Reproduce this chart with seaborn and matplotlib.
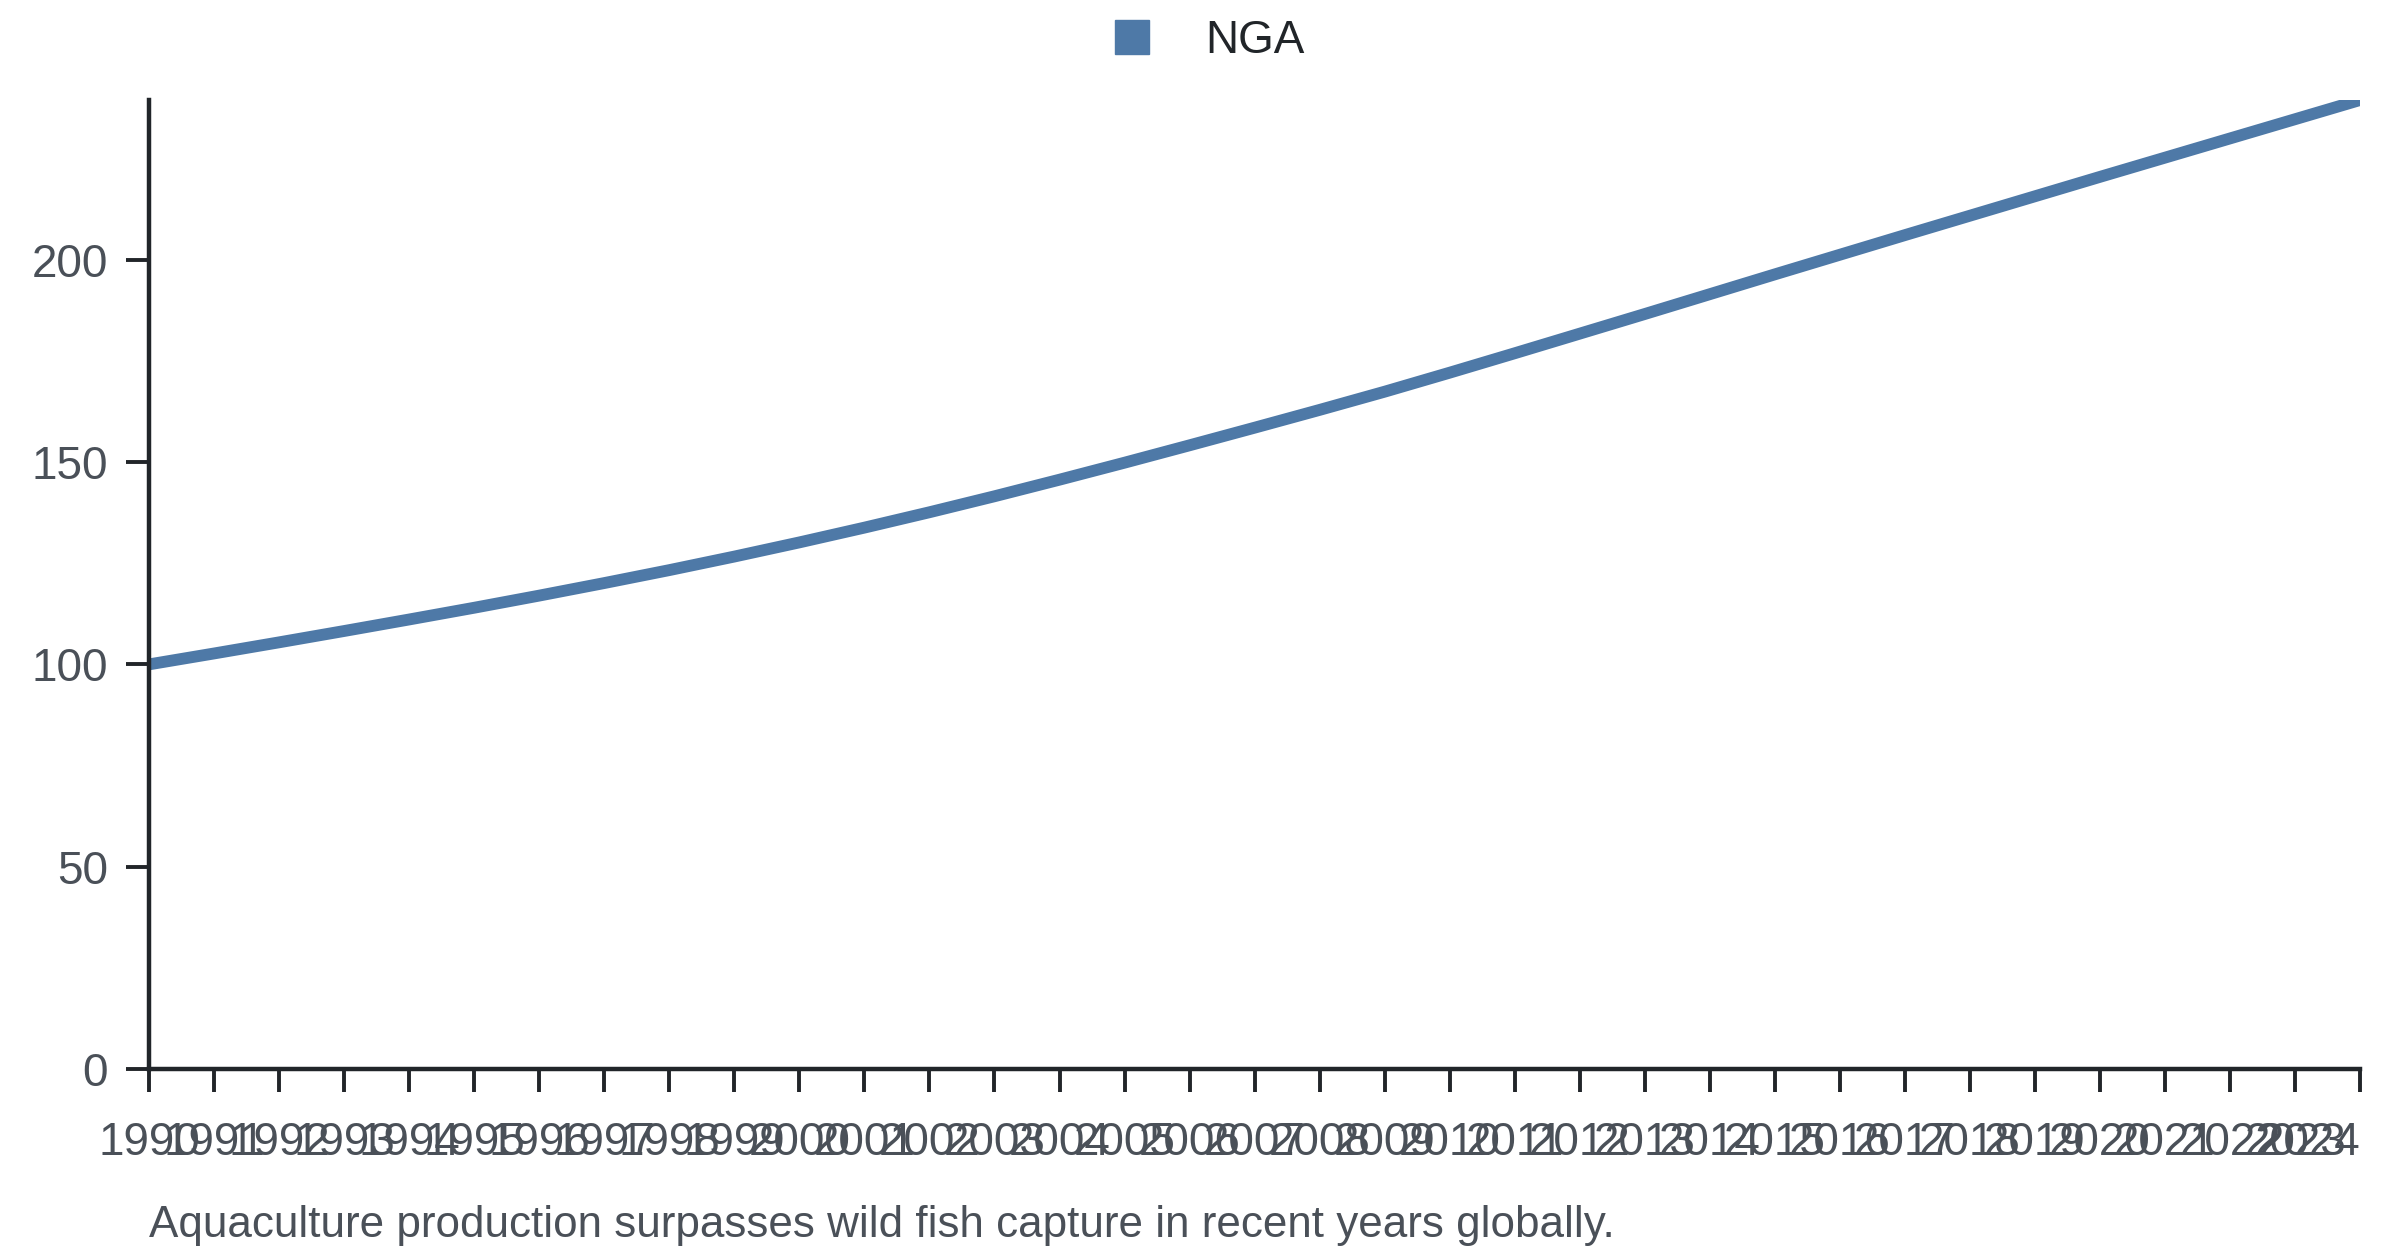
import matplotlib
matplotlib.use("Agg")
import matplotlib.pyplot as plt
from matplotlib.lines import Line2D
import seaborn as sns
import pandas as pd

years = list(range(1990, 2025))
nga_values = [100.0, 102.7, 105.45, 108.25, 111.1, 114.0, 117.0, 120.1, 123.3, 126.65,
              130.15, 133.8, 137.6, 141.55, 145.65, 149.85, 154.15, 158.5, 162.9, 167.4,
              172.1, 176.9, 181.75, 186.6, 191.5, 196.4, 201.25, 206.1, 210.9, 215.7,
              220.5, 225.25, 230.0, 234.75, 239.5]
series_name = "NGA"
y_ticks = [0, 50, 100, 150, 200]
caption = "Aquaculture production surpasses wild fish capture in recent years globally."

df = pd.DataFrame({"year": years, "value": nga_values, "country": series_name})

sns.set_theme(style="white")
plt.rcParams["font.family"] = ["Liberation Sans", "DejaVu Sans"]

line_color = "#4e79a7"
axis_color = "#212529"
label_color = "#4a5058"

fig = plt.figure(figsize=(24, 12.56), dpi=100)
ax = fig.add_axes([0.0621, 0.1489, 0.9213, 0.7715])

sns.lineplot(data=df, x="year", y="value", hue="country", palette=[line_color],
             linewidth=8.5, ax=ax, legend=False)
for ln in ax.lines:
    ln.set_solid_capstyle("butt")
    ln.set_solid_joinstyle("round")

ax.set_xlim(years[0], years[-1])
ax.set_ylim(0, max(nga_values))
ax.set_xticks(years)
ax.set_xticklabels([str(y) for y in years])
ax.set_yticks(y_ticks)
ax.set_yticklabels([str(t) for t in y_ticks])
ax.set_xlabel("")
ax.set_ylabel("")

for side in ["top", "right"]:
    ax.spines[side].set_visible(False)
for side in ["left", "bottom"]:
    ax.spines[side].set_color(axis_color)
    ax.spines[side].set_linewidth(3.2)

ax.tick_params(axis="x", bottom=True, direction="out", length=16.5, width=2.8,
               color=axis_color, pad=21, labelsize=33, labelcolor=label_color)
ax.tick_params(axis="y", left=True, direction="out", length=16.5, width=2.8,
               color=axis_color, pad=13, labelsize=33, labelcolor=label_color)
xt = ax.get_xticklabels()
xt[-1].set_horizontalalignment("right")

handle = Line2D([], [], marker="s", linestyle="none", markersize=25,
                markerfacecolor=line_color, markeredgecolor=line_color)
fig.legend(handles=[handle], labels=[series_name], loc="center",
           bbox_to_anchor=(0.504, 0.967), frameon=False, fontsize=33,
           handlelength=0.8, handletextpad=1.2, labelcolor=axis_color)

fig.text(0.0621, 1 - 1226 / 1256, caption, fontsize=31.7, color=label_color,
         ha="left", va="center")

fig.savefig("out.png", dpi=100, facecolor="white")
